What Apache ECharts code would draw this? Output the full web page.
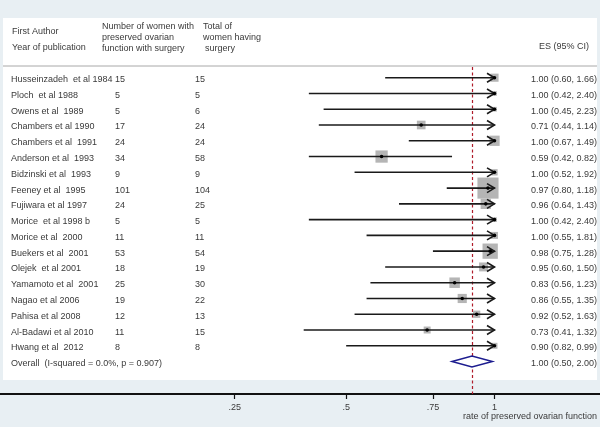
<!DOCTYPE html>
<html>
<head>
<meta charset="utf-8">
<script src="https://cdn.jsdelivr.net/npm/echarts@6/dist/echarts.min.js"></script>
<style>html,body{margin:0;padding:0;background:#e8eff3}#c{width:600px;height:427px}</style>
</head>
<body>
<div id="c"></div>
<script>
// ---- data ----
const authors = ["Husseinzadeh  et al 1984","Ploch  et al 1988","Owens et al  1989","Chambers et al 1990","Chambers et al  1991","Anderson et al  1993","Bidzinski et al  1993","Feeney et al  1995","Fujiwara et al 1997","Morice  et al 1998 b","Morice et al  2000","Buekers et al  2001","Olejek  et al 2001","Yamamoto et al  2001","Nagao et al 2006","Pahisa et al 2008","Al-Badawi et al 2010","Hwang et al  2012"];
const overallLabel = "Overall  (I-squared = 0.0%, p = 0.907)";
const preserved = [15,5,5,17,24,34,9,101,24,5,11,53,18,25,19,12,11,8];
const totals = [15,5,6,24,24,58,9,104,25,5,11,54,19,30,22,13,15,8];
const es = [1.00,1.00,1.00,0.71,1.00,0.59,1.00,0.97,0.96,1.00,1.00,0.98,0.95,0.83,0.86,0.92,0.73,1.00];
const ciLow = [0.60,0.42,0.45,0.44,0.67,0.42,0.52,0.80,0.64,0.42,0.55,0.75,0.60,0.56,0.55,0.52,0.41,0.50];
const ciHigh = [1.66,2.40,2.23,1.14,1.49,0.82,1.92,1.18,1.43,2.40,1.81,1.28,1.50,1.23,1.35,1.63,1.32,2.00];
const overallEs = 0.90, overallLow = 0.82, overallHigh = 0.99;
// ES column text exactly as printed in the reference (last two rows are printed swapped there)
const esLabels = ["1.00 (0.60, 1.66)","1.00 (0.42, 2.40)","1.00 (0.45, 2.23)","0.71 (0.44, 1.14)","1.00 (0.67, 1.49)","0.59 (0.42, 0.82)","1.00 (0.52, 1.92)","0.97 (0.80, 1.18)","0.96 (0.64, 1.43)","1.00 (0.42, 2.40)","1.00 (0.55, 1.81)","0.98 (0.75, 1.28)","0.95 (0.60, 1.50)","0.83 (0.56, 1.23)","0.86 (0.55, 1.35)","0.92 (0.52, 1.63)","0.73 (0.41, 1.32)","0.90 (0.82, 0.99)","1.00 (0.50, 2.00)"];
const tickLabels = [".25",".5",".75","1"];
const tickPositions = [0.297,0.5,0.75,1]; // where the reference prints its tick labels
const axisTitle = "rate of preserved ovarian function";
const clipAt = 1.0; // CIs beyond this are drawn with an arrow

// ---- layout ----
const PXPERLN = 214, ONEAT = 494.5;
const xMin = -ONEAT / PXPERLN, xMax = (600 - ONEAT) / PXPERLN;
const ROW0 = 77.7, ROWH = 15.77, AXISY = 394;
const yMin = -ROW0 / ROWH, yMax = yMin + AXISY / ROWH;
const FONT = '"Liberation Sans", Arial, sans-serif';
const TXT = '#3a3a3a';
const FS = '9px ';
const ln = Math.log;
const tickVals = tickPositions.map(ln);

const chart = echarts.init(document.getElementById('c'));
const rowsAll = authors.concat([overallLabel]);

chart.setOption({
  backgroundColor: '#e8eff3',
  animation: false,
  grid: {left: 0, right: 0, top: 0, bottom: 427 - AXISY, containLabel: false},
  xAxis: {
    type: 'value', min: xMin, max: xMax,
    splitLine: {show: false},
    axisLine: {show: true, onZero: false, lineStyle: {color: '#111', width: 2}},
    axisTick: {show: true, customValues: tickVals, length: 5, lineStyle: {color: '#111', width: 1.2}},
    axisLabel: {
      show: true, customValues: tickVals, margin: 9, color: TXT, fontSize: 9, fontFamily: FONT,
      formatter: function (v) {
        for (let k = 0; k < tickVals.length; k++) if (Math.abs(tickVals[k] - v) < 1e-6) return tickLabels[k];
        return '';
      }
    }
  },
  yAxis: {type: 'value', inverse: true, min: yMin, max: yMax, show: false},
  graphic: {elements: [
    {type: 'rect', z: -10, shape: {x: 3, y: 18, width: 594, height: 362}, style: {fill: '#ffffff'}, silent: true},
    {type: 'line', z: -5, shape: {x1: 3, y1: 66, x2: 597, y2: 66}, style: {stroke: '#a8a8a8', lineWidth: 1}},
    {type: 'text', x: 12, y: 32, style: {text: 'First Author', fill: TXT, font: FS + FONT, verticalAlign: 'middle'}},
    {type: 'text', x: 12, y: 48, style: {text: 'Year of publication', fill: TXT, font: FS + FONT, verticalAlign: 'middle'}},
    {type: 'text', x: 102, y: 27, style: {text: 'Number of women with', fill: TXT, font: FS + FONT, verticalAlign: 'middle'}},
    {type: 'text', x: 102, y: 38, style: {text: 'preserved ovarian', fill: TXT, font: FS + FONT, verticalAlign: 'middle'}},
    {type: 'text', x: 102, y: 49, style: {text: 'function with surgery', fill: TXT, font: FS + FONT, verticalAlign: 'middle'}},
    {type: 'text', x: 203, y: 27, style: {text: 'Total of', fill: TXT, font: FS + FONT, verticalAlign: 'middle'}},
    {type: 'text', x: 203, y: 38, style: {text: 'women having', fill: TXT, font: FS + FONT, verticalAlign: 'middle'}},
    {type: 'text', x: 205, y: 49, style: {text: 'surgery', fill: TXT, font: FS + FONT, verticalAlign: 'middle'}},
    {type: 'text', x: 589, y: 47, style: {text: 'ES (95% CI)', fill: TXT, font: FS + FONT, align: 'right', verticalAlign: 'middle'}},
    {type: 'text', x: 597, y: 417, style: {text: axisTitle, fill: TXT, font: '9px ' + FONT, align: 'right', verticalAlign: 'middle'}}
  ]},
  series: [
    { // table text
      type: 'custom', z: 3,
      data: rowsAll.map((a, i) => [0, i]),
      encode: {x: 0, y: 1},
      renderItem: function (params, api) {
        const i = api.value(1);
        const y = api.coord([0, i])[1] + 2;
        const kids = [];
        const t = (x, s, align) => kids.push({type: 'text', x: x, y: y,
          style: {text: s, fill: TXT, font: FS + FONT, align: align || 'left', verticalAlign: 'middle'}});
        t(11, rowsAll[i]);
        if (i < authors.length) {
          t(115, String(preserved[i]));
          t(195, String(totals[i]));
        }
        t(597, esLabels[i], 'right');
        return {type: 'group', children: kids};
      }
    },
    { // study estimates
      type: 'custom', z: 4,
      data: es.map((v, i) => [ln(v), i]),
      encode: {x: 0, y: 1},
      renderItem: function (params, api) {
        const i = api.value(1);
        const pe = api.coord([ln(es[i]), i]);
        const y = pe[1];
        const xl = api.coord([ln(ciLow[i]), i])[0];
        const clipped = ciHigh[i] > clipAt;
        const xh = api.coord([ln(Math.min(ciHigh[i], clipAt)), i])[0];
        const s = 2.1 * Math.sqrt(preserved[i]);
        const kids = [
          {type: 'rect', shape: {x: pe[0] - s / 2, y: y - s / 2, width: s, height: s}, style: {fill: '#b5b5b5'}},
          {type: 'line', shape: {x1: xl, y1: y, x2: xh, y2: y}, style: {stroke: '#1a1a1a', lineWidth: 1.6}}
        ];
        if (clipped) kids.push({type: 'polyline', shape: {points: [[xh - 7.5, y - 4.5], [xh, y], [xh - 7.5, y + 4.5]]},
          style: {stroke: '#1a1a1a', fill: null, lineWidth: 1.6}});
        kids.push({type: 'circle', shape: {cx: pe[0], cy: y, r: 1.8}, style: {fill: '#000'}});
        return {type: 'group', children: kids};
      },
      markLine: {
        silent: true, symbol: 'none', z: 3,
        label: {show: false},
        lineStyle: {color: '#b01c2a', width: 1.2, type: [3, 2.5]},
        data: [[{coord: [ln(overallEs), -0.68]}, {coord: [ln(overallEs), yMax]}]]
      }
    },
    { // overall diamond
      type: 'custom', z: 5,
      data: [[ln(overallEs), authors.length]],
      encode: {x: 0, y: 1},
      renderItem: function (params, api) {
        const r = api.value(1);
        const c = api.coord([ln(overallEs), r]);
        const l = api.coord([ln(overallLow), r])[0];
        const h = api.coord([ln(overallHigh), r])[0];
        return {type: 'polygon', shape: {points: [[l, c[1]], [c[0], c[1] - 5.5], [h, c[1]], [c[0], c[1] + 5.5]]},
          style: {stroke: '#1c1c8f', fill: '#ffffff', lineWidth: 1.5}};
      }
    }
  ]
});
</script>
</body>
</html>
